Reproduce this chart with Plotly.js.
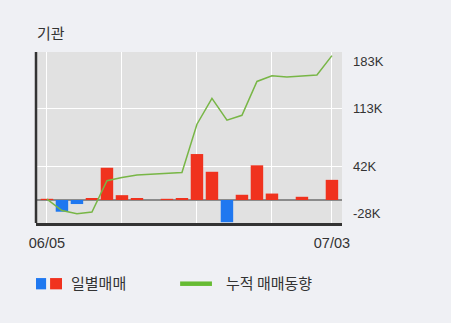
<!DOCTYPE html>
<html>
<head>
<meta charset="utf-8">
<script src="https://cdn.plot.ly/plotly-3.0.1.min.js"></script>
<style>
html,body{margin:0;padding:0;background:#eff0f4;}
#chart{width:451px;height:323px;}
</style>
</head>
<body>
<div id="chart"></div>
<script>
// Data
const dates = ['06/05','06/07','06/10','06/11','06/12','06/13','06/14','06/17','06/18','06/19',
               '06/20','06/21','06/24','06/25','06/26','06/27','06/28','07/01','07/02','07/03'];
const dailyNet = [1500, -14500, -5000, 2500, 40000, 6000, 2500, 0, 1500, 2500,
                  57000, 35000, -27500, 6500, 43000, 8000, 0, 4000, 0, 25000];
const cumulative = [1000, -13000, -17000, -15000, 24000, 28000, 31000, 32000, 33000, 34000,
                    94000, 126000, 99000, 105000, 147000, 154000, 152500, 154000, 155000, 179000];
const yTickVals = [-28000, 42000, 113000, 183000];
const yTickText = ['-28K', '42K', '113K', '183K'];
const xGridDates = [dates[0], dates[5], dates[10], dates[15], dates[19]];
const xTickText = ['06/05', '', '', '', '07/03'];
const title = '기관';
const legendBar = '일별매매';
const legendLine = '누적 매매동향';

const RED = '#f0321e', BLUE = '#1f78f0', GREEN = '#78b646';
const KFONT = '"Noto Sans CJK KR", "Noto Sans", sans-serif';
const LFONT = 'Arial, "Liberation Sans", sans-serif';

const traces = [
  {
    type: 'bar', x: dates, y: dailyNet,
    marker: {color: dailyNet.map(v => v < 0 ? BLUE : RED), line: {width: 0}},
    width: 0.83, hoverinfo: 'skip'
  },
  {
    type: 'scatter', mode: 'lines', x: dates, y: cumulative,
    line: {color: GREEN, width: 1.5}, hoverinfo: 'skip'
  }
];

const annotations = yTickVals.map((v, i) => ({
  xref: 'paper', yref: 'y', x: 1, y: v, xshift: 9,
  xanchor: 'left',
  yanchor: i === 0 ? 'bottom' : (i === yTickVals.length - 1 ? 'top' : 'middle'),
  text: yTickText[i], showarrow: false,
  font: {family: LFONT, size: 13, color: '#333'}
}));
annotations.push(
  {xref: 'paper', yref: 'paper', x: -0.003, y: 1.04, xanchor: 'left', yanchor: 'bottom',
   text: title, showarrow: false, font: {family: KFONT, size: 15, color: '#333'}},
  {xref: 'paper', yref: 'paper', x: 0.108, y: -0.35, xanchor: 'left', yanchor: 'middle',
   text: legendBar, showarrow: false, font: {family: KFONT, size: 15, color: '#333'}},
  {xref: 'paper', yref: 'paper', x: 0.615, y: -0.35, xanchor: 'left', yanchor: 'middle',
   text: legendLine, showarrow: false, font: {family: KFONT, size: 15, color: '#333'}}
);

const shapes = [
  // left axis line
  {type: 'line', xref: 'paper', yref: 'paper', x0: 0, x1: 0, y0: 0, y1: 1,
   line: {color: '#333', width: 2.5}},
  // legend swatches
  {type: 'rect', xref: 'paper', yref: 'paper', x0: 0.0, x1: 0.033, y0: -0.388, y1: -0.322,
   fillcolor: BLUE, line: {width: 0}},
  {type: 'rect', xref: 'paper', yref: 'paper', x0: 0.046, x1: 0.085, y0: -0.388, y1: -0.322,
   fillcolor: RED, line: {width: 0}},
  {type: 'line', xref: 'paper', yref: 'paper', x0: 0.471, x1: 0.575, y0: -0.355, y1: -0.355,
   line: {color: '#66bb33', width: 4.5}}
];

const layout = {
  width: 451, height: 323,
  margin: {l: 36, r: 109, t: 52, b: 100},
  paper_bgcolor: '#eff0f4', plot_bgcolor: '#e1e1e1',
  showlegend: false, bargap: 0.17,
  xaxis: {
    type: 'category', range: [-0.73, 19.67],
    tickmode: 'array', tickvals: xGridDates, ticktext: xTickText,
    showgrid: true, gridcolor: '#ffffff', gridwidth: 1,
    showline: true, linecolor: '#333', linewidth: 2.5,
    ticks: 'outside', ticklen: 5, tickcolor: 'rgba(0,0,0,0)',
    tickfont: {family: LFONT, size: 14.5, color: '#333'},
    fixedrange: true
  },
  yaxis: {
    side: 'right', range: [-28500, 183500],
    tickmode: 'array', tickvals: yTickVals, showticklabels: false,
    showgrid: true, gridcolor: '#ffffff', gridwidth: 1,
    zeroline: true, zerolinecolor: '#8a8a8a', zerolinewidth: 2,
    showline: false, layer: 'above traces', fixedrange: true
  },
  annotations: annotations,
  shapes: shapes
};

Plotly.newPlot('chart', traces, layout, {staticPlot: true, displayModeBar: false});
</script>
</body>
</html>
